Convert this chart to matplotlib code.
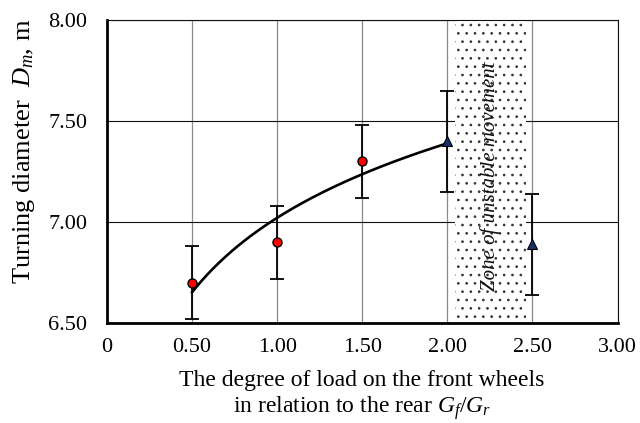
import numpy as np
import matplotlib
matplotlib.use("Agg")
import matplotlib.pyplot as plt

plt.rcParams['font.family'] = ['Liberation Serif', 'DejaVu Serif']
plt.rcParams['mathtext.fontset'] = 'custom'
plt.rcParams['mathtext.rm'] = 'Liberation Serif'
plt.rcParams['mathtext.it'] = 'Liberation Serif:italic'
plt.rcParams['hatch.linewidth'] = 0.7

# data
x_meas = [0.5, 1.0, 1.5]
y_meas = [6.70, 6.90, 7.30]
err_meas = [0.18, 0.18, 0.18]
x_tri = [2.0, 2.5]
y_tri = [7.40, 6.89]
err_tri = [0.25, 0.25]
zone = [2.045, 2.46]
xticks = [0, 0.5, 1.0, 1.5, 2.0, 2.5, 3.0]
xticklabels = ['0', '0.50', '1.00', '1.50', '2.00', '2.50', '3.00']
yticks = [6.5, 7.0, 7.5, 8.0]
yticklabels = ['6.50', '7.00', '7.50', '8.00']

fig = plt.figure(figsize=(6.4, 4.23), dpi=100)
ax = fig.add_axes([0.167, 0.236, 0.798, 0.717])

ax.set_xlim(0, 3.0)
ax.set_ylim(6.5, 8.0)
ax.set_xticks(xticks)
ax.set_xticklabels(xticklabels)
ax.set_yticks(yticks)
ax.set_yticklabels(yticklabels)
ax.tick_params(length=0, labelsize=16)
ax.tick_params(axis='x', pad=11)
ax.tick_params(axis='y', pad=14)
ax.xaxis.grid(True, color='#8a8a8a', linewidth=0.9, zorder=0)
ax.yaxis.grid(True, color='#111111', linewidth=0.8, zorder=0)
ax.set_axisbelow(True)

for s in ['left', 'bottom']:
    ax.spines[s].set_linewidth(2.0)
for s in ['right', 'top']:
    ax.spines[s].set_linewidth(0.8)
    ax.spines[s].set_color('#111111')

# unstable zone
ax.axvspan(zone[0], zone[1], facecolor='white', edgecolor='#333333',
           hatch='..', linewidth=0, zorder=1)
ax.text(sum(zone) / 2, 7.228, 'Zone of unstable movement', rotation=90,
        ha='center', va='center', fontsize=15, style='italic', zorder=2,
        color='#111111')

# logarithmic trendline fitted on the first four points
xf = np.array(x_meas + [x_tri[0]])
yf = np.array(y_meas + [y_tri[0]])
b, a = np.polyfit(np.log(xf), yf, 1)
xc = np.linspace(xf.min(), xf.max(), 200)
ax.plot(xc, a + b * np.log(xc), color='black', linewidth=1.9, zorder=3)

ax.errorbar(x_meas, y_meas, yerr=err_meas, fmt='none', ecolor='black',
            elinewidth=1.3, capsize=5, capthick=1.3, zorder=4)
ax.errorbar(x_tri, y_tri, yerr=err_tri, fmt='none', ecolor='black',
            elinewidth=1.3, capsize=5, capthick=1.3, zorder=4)
ax.plot(x_meas, y_meas, 'o', color='red', markeredgecolor='black',
        markersize=6.5, markeredgewidth=1.0, zorder=5, clip_on=False)
ax.plot(x_tri, y_tri, '^', color='#1a2f6e', markeredgecolor='black',
        markersize=7.5, markeredgewidth=0.8, zorder=5, clip_on=False)

fig.text(24 / 640, 1 - 151 / 423, 'Turning diameter  $D_m$, m', rotation=90,
         ha='center', va='center', fontsize=19)
fig.text(362 / 640, 1 - 396 / 423,
         'The degree of load on the front wheels\nin relation to the rear $G_f/G_r$',
         ha='center', va='center', fontsize=17, linespacing=1.12)

fig.savefig('out.png', dpi=100)
